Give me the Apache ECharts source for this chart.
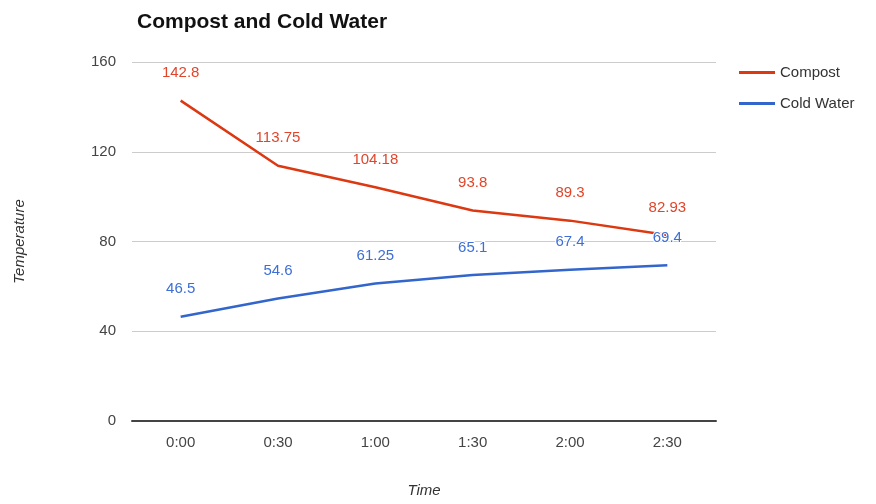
<!DOCTYPE html>
<html>
<head>
<meta charset="utf-8">
<script src="https://cdn.jsdelivr.net/npm/echarts@6/dist/echarts.min.js"></script>
<style>html,body{margin:0;padding:0;background:#fff}#c{width:876px;height:504px}</style>
</head>
<body>
<div id="c"></div>
<script>
const categories = ['0:00', '0:30', '1:00', '1:30', '2:00', '2:30'];
const compost = [142.8, 113.75, 104.18, 93.8, 89.3, 82.93];
const coldWater = [46.5, 54.6, 61.25, 65.1, 67.4, 69.4];
const yTicks = [0, 40, 80, 120, 160];

const chart = echarts.init(document.getElementById('c'), null, {renderer: 'canvas'});
const font = 'Liberation Sans, Arial, sans-serif';
chart.setOption({
  backgroundColor: '#ffffff',
  animation: false,
  title: {
    text: 'Compost and Cold Water',
    left: 132, top: 7,
    textStyle: {fontFamily: font, fontSize: 21, fontWeight: 'bold', color: '#111'}
  },
  legend: {
    orient: 'vertical',
    left: 734, top: 60,
    itemWidth: 36, itemHeight: 3, itemGap: 16,
    icon: 'rect',
    textStyle: {fontFamily: font, fontSize: 15, color: '#333'},
    data: ['Compost', 'Cold Water']
  },
  grid: {left: 132, right: 160, top: 62, bottom: 83, containLabel: false, outerBoundsMode: 'none'},
  xAxis: {
    type: 'category',
    data: categories,
    boundaryGap: true,
    name: 'Time',
    nameLocation: 'middle',
    nameGap: 62,
    nameTextStyle: {fontFamily: font, fontSize: 15, fontStyle: 'italic', color: '#333'},
    axisLine: {show: true, lineStyle: {color: '#444', width: 2}},
    axisTick: {show: false},
    axisLabel: {fontFamily: font, fontSize: 15, color: '#444', margin: 14}
  },
  yAxis: {
    type: 'value',
    min: 0, max: 160, interval: 40,
    name: 'Temperature',
    nameLocation: 'middle',
    nameGap: 105,
    nameTextStyle: {fontFamily: font, fontSize: 15, fontStyle: 'italic', color: '#333'},
    axisLine: {show: false},
    axisTick: {show: false},
    axisLabel: {fontFamily: font, fontSize: 15, color: '#444', margin: 16,
      formatter: v => yTicks.includes(v) ? String(v) : ''},
    splitLine: {lineStyle: {color: '#cccccc', width: 1}}
  },
  series: [
    {
      name: 'Compost', type: 'line', data: compost,
      symbol: 'circle', symbolSize: 0.01, showSymbol: true,
      color: '#dc3912',
      lineStyle: {color: '#dc3912', width: 2.5},
      label: {show: true, position: 'top', distance: 20,
        fontFamily: font, fontSize: 15, color: '#e0452a',
        textBorderColor: '#fff', textBorderWidth: 2}
    },
    {
      name: 'Cold Water', type: 'line', data: coldWater,
      symbol: 'circle', symbolSize: 0.01, showSymbol: true,
      color: '#3366cc',
      lineStyle: {color: '#3366cc', width: 2.5},
      label: {show: true, position: 'top', distance: 20,
        fontFamily: font, fontSize: 15, color: '#3d6fd6',
        textBorderColor: '#fff', textBorderWidth: 2}
    }
  ]
});
</script>
</body>
</html>
